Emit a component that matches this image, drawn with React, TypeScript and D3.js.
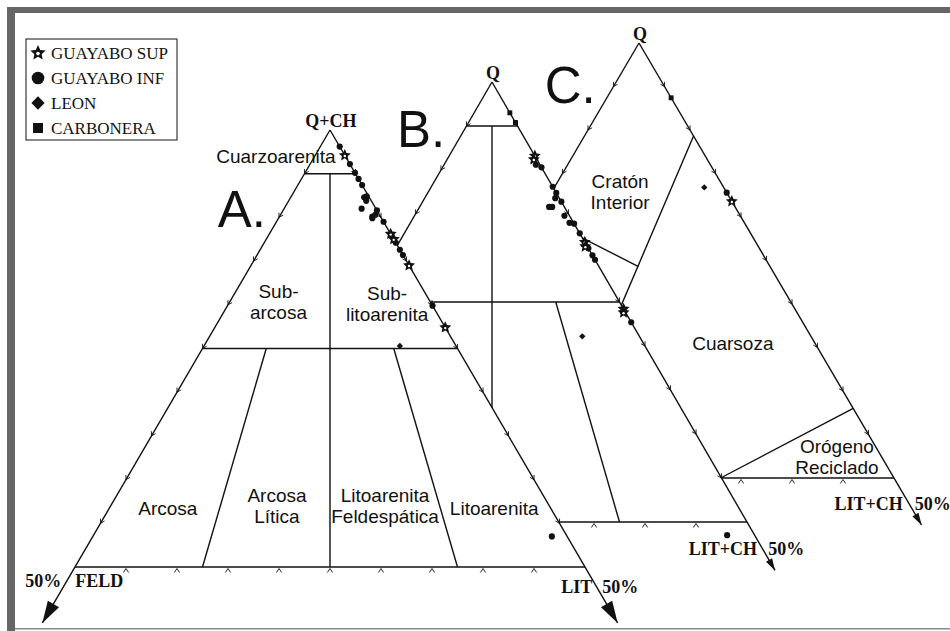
import React from "react";
import * as d3 from "d3";

type P3 = [number, number, number]; // [Q, F, L] in %

// legend
const SERIES = ["GUAYABO SUP", "GUAYABO INF", "LEON", "CARBONERA"];

// A. Folk: [Q+CH, FELD, LIT]
const A_GUAYABO_SUP: P3[] = [
  [97.1, 0, 2.9], [88.1, 0, 11.9], [87.5, 0, 12.5], [84.5, 0, 15.5], [77.4, 0, 22.6],
];
const A_GUAYABO_INF: P3[] = [
  [98.1, 0, 1.9], [96.1, 0, 3.9], [95.1, 0, 4.9], [94.4, 0, 5.6], [93.7, 0, 6.3],
  [92.3, 0.5, 7.2], [92.4, 0.2, 7.4], [91.9, 0.5, 7.6], [91.0, 1.4, 7.6], [90.8, 0, 9.2],
  [90.1, 0.8, 9.1], [89.9, 0.9, 9.2], [90.3, 0.4, 9.3], [89.5, 0, 10.5], [87.1, 0, 12.9],
  [86.3, 0, 13.7], [85.7, 0, 14.3], [79.9, 0, 20.1], [53.5, 1.5, 45.0],
];
const A_LEON: P3[] = [[75.3, 5.5, 19.2]];

// B. [Q, F, LIT+CH]
const B_GUAYABO_SUP: P3[] = [
  [91.6, 0, 8.4], [91.2, 0.3, 8.5], [81.8, 0, 18.2], [81.3, 0.2, 18.5], [74.2, 0, 25.8], [73.8, 0.2, 26.0],
];
const B_GUAYABO_INF: P3[] = [
  [90.6, 0.4, 9.0], [90.3, 0, 9.7], [88.1, 0, 11.9], [87.4, 0, 12.6], [86.8, 0.4, 12.8],
  [86.4, 0, 13.6], [85.8, 1.5, 12.7], [85.8, 1.2, 13.0], [84.8, 0.5, 14.7], [84.0, 0.4, 15.6],
  [83.9, 0, 16.1], [82.8, 0, 17.2], [81.1, 0, 18.9], [80.3, 0, 19.7], [79.8, 0, 20.2],
  [72.7, 0, 27.3], [48.5, 2.7, 48.8],
];
const B_LEON: P3[] = [[71.1, 5.6, 23.3]];
const B_CARBONERA: P3[] = [[96.5, 0, 3.5], [95.4, 0, 4.6]];

// C. [Q, F, LIT+CH]
const C_GUAYABO_SUP: P3[] = [[81.8, 0, 18.2]];
const C_GUAYABO_INF: P3[] = [[82.8, 0, 17.2]];
const C_LEON: P3[] = [[83.4, 1.9, 14.7]];
const C_CARBONERA: P3[] = [[93.7, 0, 6.3]];

// ticks every 5 %
const SIDE_TICKS = [95, 90, 85, 80, 75, 70, 65, 60, 55];
const BASE_TICKS = [5, 10, 15, 20, 25, 30, 35, 40, 45];

// field boundaries
const FOLK_LINES: [P3, P3][] = [
  [[95, 5, 0], [95, 0, 5]],
  [[75, 25, 0], [75, 0, 25]],
  [[95, 2.5, 2.5], [50, 25, 25]],
  [[75, 18.75, 6.25], [50, 37.5, 12.5]],
  [[75, 6.25, 18.75], [50, 12.5, 37.5]],
];
const QFL_LINES: [P3, P3][] = [
  [[89.3, 0, 10.7], [62, 23.6, 14.4]],
  [[74.3, 12.9, 12.8], [79.5, 19, 1.5]],
  [[58, 0, 42], [50, 17, 33]],
];

// field names: [lines, Q, L-F]
const A_FIELDS: [string[], number, number][] = [
  [["Cuarzoarenita"], 96.2, -10.6],
  [["Sub-", "arcosa"], 80.8, -10.1],
  [["Sub-", "litoarenita"], 80.6, 11.2],
  [["Arcosa"], 56.0, -31.8],
  [["Arcosa", "Lítica"], 57.4, -10.4],
  [["Litoarenita", "Feldespática"], 57.4, 10.8],
  [["Litoarenita"], 56.0, 32.2],
];
const C_FIELDS: [string[], number, number][] = [
  [["Cratón", "Interior"], 83.3, -3.7],
  [["Cuarsoza"], 64.7, 18.4],
  [["Orógeno", "Reciclado"], 52.9, 38.8],
];

// layout of each triangle (px)
const TRI_A = { ax: 330, ay: 130, h: 437, w: 255, tipQ: 43.6, aLen: 22, aHw: 6.5, letter: "A.", letterQ: 88.9, letterD: -17.3 };
const TRI_B = { ax: 492, ay: 82, h: 440, w: 255, tipQ: 44.5, aLen: 12, aHw: 3.5, letter: "B.", letterQ: 92.6, letterD: -13.9 };
const TRI_C = { ax: 639, ay: 43, h: 435, w: 255, tipQ: 44.6, aLen: 12, aHw: 3.5, letter: "C.", letterQ: 93.1, letterD: -13.5 };

const INK = "#111";
const SANS = "'Liberation Sans', Arial, sans-serif";
const SERIF = "'Liberation Serif', 'Times New Roman', serif";

// five-point star with fat arms
const starPath = (R: number) => {
  const pts: [number, number][] = d3.range(10).map((i) => {
    const r = i % 2 === 0 ? R : R * 0.48;
    const a = -Math.PI / 2 + (i * Math.PI) / 5;
    return [r * Math.cos(a), r * Math.sin(a)];
  });
  return (d3.line()(pts) || "") + "Z";
};

const symPath = (kind: number, big: boolean) => {
  if (kind === 0) return starPath(big ? 8 : 6.3);
  if (kind === 1) return d3.symbol(d3.symbolCircle, big ? 125 : 30)() || "";
  if (kind === 2) return d3.symbol(d3.symbolSquare, big ? 88 : 20)() || "";
  return d3.symbol(d3.symbolSquare, big ? 100 : 24)() || "";
};

const Marker = ({ kind, x, y, big }: { kind: number; x: number; y: number; big: boolean }) => (
  <g transform={`translate(${x},${y})${kind === 2 ? " rotate(45)" : ""}`}>
    <path d={symPath(kind, big)} fill={INK} />
    {kind === 0 && <circle r={big ? 1.8 : 1.2} cy={0.6} fill="#fff" />}
  </g>
);

const chev = (P: number[], u: number[], len: number, hw: number) => {
  const n = [-u[1], u[0]];
  return `M${P[0] - u[0] * len + n[0] * hw},${P[1] - u[1] * len + n[1] * hw}L${P[0]},${P[1]}L${P[0] - u[0] * len - n[0] * hw},${P[1] - u[1] * len - n[1] * hw}`;
};

type Tri = typeof TRI_A;

function Triangle({
  t, lines, series, fields, leftArrow, top, left, right,
}: {
  t: Tri;
  lines: [P3, P3][];
  series: [P3[], number][];
  fields: [string[], number, number][];
  leftArrow: boolean;
  top: string;
  left?: [string, string];
  right: [string, string, number, number];
}) {
  const sy = d3.scaleLinear().domain([100, 50]).range([t.ay, t.ay + t.h]);
  const sx = d3.scaleLinear().domain([-50, 50]).range([t.ax - t.w, t.ax + t.w]);
  const p = (v: P3) => [sx(v[2] - v[1]), sy(v[0])];
  const apex = p([100, 0, 0]);
  const fl = p([50, 50, 0]);
  const fr = p([50, 0, 50]);
  const tipR = p([t.tipQ, 0, 100 - t.tipQ]);
  const tipL = p([t.tipQ, 100 - t.tipQ, 0]);
  const unit = (a: number[], b: number[]) => {
    const dx = b[0] - a[0], dy = b[1] - a[1], m = Math.hypot(dx, dy);
    return [dx / m, dy / m];
  };
  const uR = unit(apex, tipR);
  const uL = unit(apex, tipL);
  const line = d3.line();
  const arrowHead = (tip: number[], u: number[]) => {
    const n = [-u[1], u[0]];
    const b = [tip[0] - u[0] * t.aLen, tip[1] - u[1] * t.aLen];
    return `M${tip[0]},${tip[1]}L${b[0] + n[0] * t.aHw},${b[1] + n[1] * t.aHw}L${b[0] - n[0] * t.aHw},${b[1] - n[1] * t.aHw}Z`;
  };
  const lblR = p([right[2], 0, 100 - right[2]]);
  const lblL = p([right[2] + 0.7, 100 - right[2] - 0.7, 0]);

  return (
    <g>
      <polygon points={[apex, fl, fr].map((d) => d.join(",")).join(" ")} fill="#fff" />
      <g stroke={INK} strokeWidth={1.4} fill="none">
        {lines.map((l, i) => (
          <path key={i} d={line(l.map(p) as [number, number][]) || ""} />
        ))}
        <path d={line([fl, fr] as [number, number][]) || ""} />
        <path d={line([apex, leftArrow ? tipL : fl] as [number, number][]) || ""} />
        <path d={line([apex, tipR] as [number, number][]) || ""} />
      </g>
      <g stroke={INK} strokeWidth={0.9} fill="none">
        {SIDE_TICKS.map((q) => (
          <path key={"r" + q} d={chev(p([q, 0, 100 - q]), uR, 4, 2.4)} />
        ))}
        {SIDE_TICKS.map((q) => (
          <path key={"l" + q} d={chev(p([q, 100 - q, 0]), uL, 4, 2.4)} />
        ))}
        {BASE_TICKS.map((l) => {
          const b = p([50, 50 - l, l]);
          return <path key={"b" + l} d={chev([b[0], b[1] + 1.5], [0, -1], 4, 2.6)} />;
        })}
      </g>
      <path d={arrowHead(tipR, uR)} fill={INK} />
      {leftArrow && <path d={arrowHead(tipL, uL)} fill={INK} />}

      {series.map(([pts, kind]) =>
        pts.map((v, i) => {
          const [x, y] = p(v);
          return <Marker key={kind + "-" + i} kind={kind} x={x} y={y} big={false} />;
        })
      )}

      <g fontFamily={SANS} fontSize={19} fill={INK} textAnchor="middle">
        {fields.map(([txt, q, d], i) => (
          <text key={i} x={sx(d)} y={sy(q)}>
            {txt.map((s, j) => (
              <tspan key={j} x={sx(d)} dy={j === 0 ? 0 : 21}>{s}</tspan>
            ))}
          </text>
        ))}
      </g>
      <text x={sx(t.letterD)} y={sy(t.letterQ)} fontFamily={SANS} fontSize={51} textAnchor="middle" fill={INK}>
        {t.letter}
      </text>

      <g fontFamily={SERIF} fontWeight="bold" fontSize={18} fill={INK}>
        <text x={apex[0] + 1} y={apex[1] - 3} textAnchor="middle">{top}</text>
        <text x={lblR[0] + right[3]} y={lblR[1]} textAnchor="end">{right[0]}</text>
        <text x={lblR[0] + 2} y={lblR[1]} textAnchor="start">{right[1]}</text>
        {left && (
          <>
            <text x={lblL[0] - 2} y={lblL[1]} textAnchor="end">{left[0]}</text>
            <text x={lblL[0] + 12} y={lblL[1]} textAnchor="start">{left[1]}</text>
          </>
        )}
      </g>
    </g>
  );
}

function Legend() {
  const x0 = 26, y0 = 39;
  return (
    <g>
      <rect x={x0} y={y0} width={151} height={101} fill="#fff" stroke={INK} strokeWidth={1} />
      {SERIES.map((s, i) => (
        <g key={s}>
          <Marker kind={i} x={x0 + 12} y={y0 + 14 + i * 25} big={true} />
          <text x={x0 + 25} y={y0 + 20 + i * 25} fontFamily={SERIF} fontSize={17} fill={INK}>
            {s}
          </text>
        </g>
      ))}
    </g>
  );
}

export default function App() {
  return (
    <div style={{ position: "absolute", left: 0, top: 0 }}>
      <svg width={950} height={631} style={{ display: "block", background: "#fff" }}>
        <Triangle
          t={TRI_C}
          lines={QFL_LINES}
          series={[[C_GUAYABO_INF, 1], [C_LEON, 2], [C_CARBONERA, 3], [C_GUAYABO_SUP, 0]]}
          fields={C_FIELDS}
          leftArrow={false}
          top="Q"
          right={["LIT+CH", "50%", 46.3, -10]}
        />
        <Triangle
          t={TRI_B}
          lines={FOLK_LINES}
          series={[[B_GUAYABO_INF, 1], [B_LEON, 2], [B_CARBONERA, 3], [B_GUAYABO_SUP, 0]]}
          fields={[]}
          leftArrow={false}
          top="Q"
          right={["LIT+CH", "50%", 46.25, -9]}
        />
        <Triangle
          t={TRI_A}
          lines={FOLK_LINES}
          series={[[A_GUAYABO_INF, 1], [A_LEON, 2], [A_GUAYABO_SUP, 0]]}
          fields={A_FIELDS}
          leftArrow={true}
          top="Q+CH"
          left={["50%", "FELD"]}
          right={["LIT", "50%", 47, -8]}
        />
        <Legend />
        <rect x={7} y={7} width={943} height={6} fill="#666" />
        <rect x={7} y={7} width={8} height={624} fill="#666" />
        <rect x={15} y={628} width={935} height={1.5} fill="#888" />
      </svg>
    </div>
  );
}
